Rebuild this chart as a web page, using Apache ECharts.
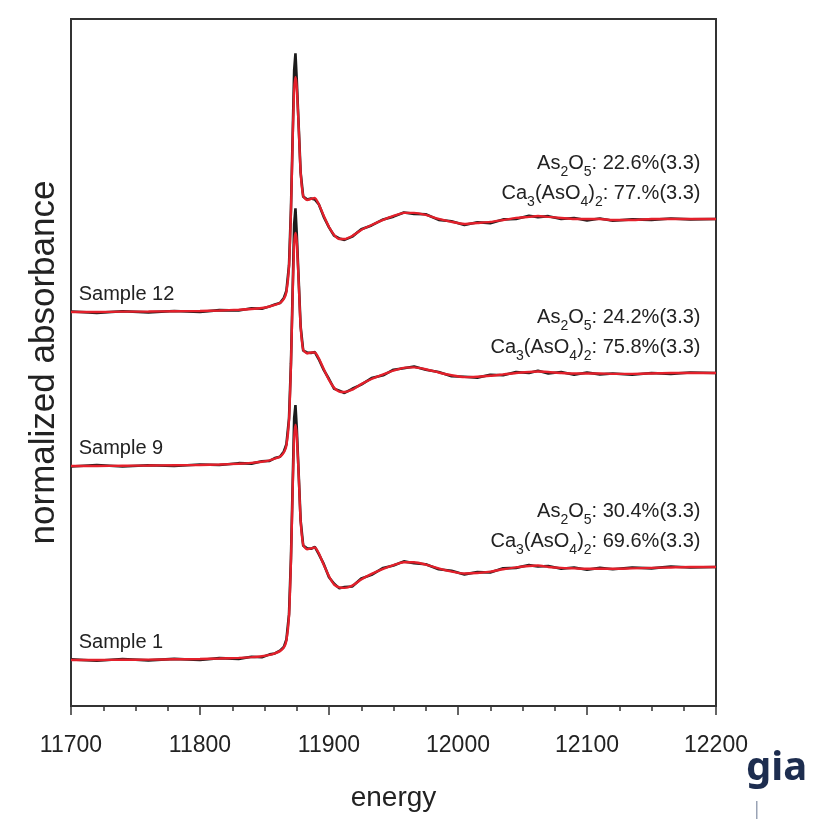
<!DOCTYPE html>
<html>
<head>
<meta charset="utf-8">
<script src="https://cdn.jsdelivr.net/npm/echarts@6/dist/echarts.min.js"></script>
<style>
	html, body {margin: 0; padding: 0; background: #fff;}
	#XChart {width: 823px; height: 819px;}
</style>
</head>
<body>
<div id="XChart"></div>
<script>
// energy grid (eV), shared by all curves
var energy = [
	11700, 11720, 11740, 11760, 11780, 11800, 11815, 11830, 11840, 11848,
	11854, 11858, 11862, 11865, 11867, 11869, 11870.5, 11872, 11873, 11874,
	11875, 11876.5, 11878, 11880, 11883, 11886, 11889, 11892, 11896, 11900,
	11904, 11908, 11912, 11918, 11925, 11933, 11942, 11950, 11958, 11966,
	11975, 11985, 11995, 12005, 12015, 12025, 12035, 12045, 12055, 12062,
	12070, 12080, 12090, 12100, 12110, 12120, 12135, 12150, 12165, 12180,
	12200
];

// sample 12
var fit12 = [
	0, 0, 0.003, 0.005, 0.008, 0.011, 0.016, 0.024, 0.032, 0.043,
	0.059, 0.075, 0.097, 0.14, 0.215, 0.484, 1.075, 1.935, 2.387, 2.527,
	2.419, 1.989, 1.505, 1.247, 1.204, 1.215, 1.226, 1.161, 1.032, 0.914,
	0.828, 0.785, 0.785, 0.817, 0.882, 0.935, 0.989, 1.032, 1.065, 1.065,
	1.043, 1.0, 0.968, 0.946, 0.957, 0.968, 0.989, 1.011, 1.022, 1.032,
	1.022, 1.011, 1.0, 1.0, 1.0, 0.989, 0.989, 1.0, 1.0, 1.0,
	1.0
];
var data12 = [
	0.005, -0.01, 0.008, -0.005, 0.01, 0.0, 0.02, 0.015, 0.04, 0.035,
	0.06, 0.08, 0.095, 0.15, 0.23, 0.5, 1.1, 2.0, 2.6, 2.78,
	2.5, 2.0, 1.5, 1.24, 1.21, 1.22, 1.21, 1.16, 1.02, 0.91,
	0.82, 0.79, 0.775, 0.81, 0.89, 0.93, 0.995, 1.025, 1.07, 1.055,
	1.05, 0.99, 0.975, 0.935, 0.965, 0.955, 0.995, 1.0, 1.035, 1.02,
	1.03, 1.0, 1.01, 0.985, 1.005, 0.98, 0.995, 0.99, 1.005, 0.995,
	1.0
];

// sample 9
var fit9 = [
	0, 0, 0.003, 0.005, 0.008, 0.011, 0.016, 0.024, 0.033, 0.045,
	0.06, 0.078, 0.1, 0.145, 0.22, 0.49, 1.08, 1.93, 2.38, 2.505,
	2.41, 1.98, 1.5, 1.25, 1.21, 1.22, 1.22, 1.16, 1.04, 0.925,
	0.84, 0.80, 0.795, 0.82, 0.88, 0.935, 0.985, 1.025, 1.055, 1.06,
	1.04, 1.005, 0.975, 0.955, 0.96, 0.97, 0.985, 1.0, 1.01, 1.015,
	1.01, 1.0, 0.995, 0.995, 0.995, 0.99, 0.99, 0.995, 1.0, 1.0,
	1.0
];
var data9 = [
	-0.005, 0.01, -0.006, 0.008, 0.0, 0.015, 0.01, 0.03, 0.025, 0.05,
	0.055, 0.085, 0.1, 0.155, 0.235, 0.51, 1.1, 2.0, 2.6, 2.77,
	2.5, 2.0, 1.5, 1.24, 1.22, 1.215, 1.225, 1.15, 1.03, 0.935,
	0.83, 0.81, 0.785, 0.83, 0.875, 0.945, 0.975, 1.035, 1.05, 1.07,
	1.035, 1.01, 0.965, 0.96, 0.95, 0.98, 0.975, 1.01, 1.0, 1.025,
	0.995, 1.01, 0.98, 1.005, 0.985, 0.995, 0.98, 1.0, 0.99, 1.005,
	1.0
];

// sample 1
var fit1 = [
	0, 0, 0.002, 0.004, 0.007, 0.01, 0.015, 0.022, 0.03, 0.04,
	0.055, 0.072, 0.095, 0.135, 0.21, 0.47, 1.06, 1.92, 2.39, 2.53,
	2.42, 1.99, 1.5, 1.24, 1.19, 1.2, 1.21, 1.15, 1.02, 0.9,
	0.81, 0.78, 0.775, 0.8, 0.865, 0.925, 0.98, 1.02, 1.05, 1.05,
	1.025, 0.985, 0.95, 0.93, 0.935, 0.95, 0.975, 0.995, 1.01, 1.015,
	1.0, 0.99, 0.985, 0.98, 0.98, 0.98, 0.985, 0.99, 0.995, 1.0,
	1.0
];
var data1 = [
	0.006, -0.008, 0.01, -0.004, 0.012, 0.0, 0.02, 0.012, 0.035, 0.03,
	0.06, 0.07, 0.1, 0.14, 0.22, 0.49, 1.09, 1.99, 2.6, 2.74,
	2.5, 2.0, 1.5, 1.23, 1.2, 1.195, 1.215, 1.14, 1.03, 0.89,
	0.82, 0.77, 0.785, 0.79, 0.875, 0.915, 0.99, 1.015, 1.06, 1.04,
	1.03, 0.975, 0.96, 0.92, 0.945, 0.94, 0.985, 0.99, 1.02, 1.005,
	1.01, 0.98, 0.995, 0.97, 0.99, 0.975, 0.995, 0.985, 1.005, 0.995,
	1.0
];

var sampleNames = ['Sample 1', 'Sample 9', 'Sample 12'];
var stackOffset = [0, 2.086, 3.742];
var as2o5Share = ['30.4%(3.3)', '24.2%(3.3)', '22.6%(3.3)'];
var ca3Share = ['69.6%(3.3)', '75.8%(3.3)', '77.%(3.3)'];
var xTicks = [11700, 11800, 11900, 12000, 12100, 12200];

window.onload = function () {
	var myChart = echarts.init(document.getElementById('XChart'));
	var sans = "'Liberation Sans', Arial, sans-serif";
	var fits = [fit1, fit9, fit12];
	var raws = [data1, data9, data12];

	function toPairs(vals, off) {
		return energy.map(function (e, i) {
			return [e, +(vals[i] + off).toFixed(4)];
		});
	}

	var series = [];
	for (var i = 0; i < 3; i++) {
		series.push({
			name: sampleNames[i] + ' data',
			type: 'line',
			showSymbol: false,
			z: 2,
			lineStyle: {color: '#1c1c1c', width: 2.6},
			data: toPairs(raws[i], stackOffset[i])
		});
	}
	for (var j = 0; j < 3; j++) {
		series.push({
			name: sampleNames[j] + ' fit',
			type: 'line',
			showSymbol: false,
			smooth: 0.2,
			z: 3,
			lineStyle: {color: '#e3202b', width: 2.4},
			data: toPairs(fits[j], stackOffset[j]),
			markPoint: {
				symbol: 'circle',
				symbolSize: 0,
				silent: true,
				itemStyle: {color: 'transparent'},
				data: [{
					coord: [11706, stackOffset[j] + 0.19],
					label: {
						show: true,
						position: 'right',
						distance: 0,
						formatter: sampleNames[j],
						fontFamily: sans,
						fontSize: 20,
						color: '#222'
					}
				}, {
					coord: [12188, stackOffset[j] + 1.43],
					label: {
						show: true,
						position: 'left',
						distance: 0,
						align: 'right',
						formatter: '{m|As}{s|2}{m|O}{s|5}{m|: ' + as2o5Share[j] + '}\n' +
							'{m|Ca}{s|3}{m|(AsO}{s|4}{m|)}{s|2}{m|: ' + ca3Share[j] + '}',
						rich: {
							m: {fontFamily: sans, fontSize: 20, lineHeight: 30, color: '#222'},
							s: {fontFamily: sans, fontSize: 14, lineHeight: 14, padding: [16, 0, 0, 0],
								verticalAlign: 'top', color: '#222'}
						}
					}
				}]
			}
		});
	}

	var option = {
		animation: false,
		backgroundColor: '#fff',
		grid: {
			left: 71,
			right: 107,
			top: 19,
			bottom: 113,
			show: true,
			borderColor: '#333',
			borderWidth: 2,
			containLabel: false,
			outerBoundsMode: 'none'
		},
		xAxis: {
			type: 'value',
			min: 11700,
			max: 12200,
			interval: 100,
			name: 'energy',
			nameLocation: 'middle',
			nameGap: 78,
			nameTextStyle: {fontFamily: sans, fontSize: 28, color: '#222'},
			axisLine: {onZero: false, lineStyle: {color: '#333', width: 2}},
			axisTick: {length: 9, lineStyle: {color: '#333', width: 1.5}},
			minorTick: {show: true, splitNumber: 4, length: 5, lineStyle: {color: '#333', width: 1.5}},
			splitLine: {show: false},
			axisLabel: {
				fontFamily: sans,
				fontSize: 23,
				color: '#222',
				margin: 28,
				formatter: function (v) {
					return xTicks.indexOf(v) >= 0 ? String(v) : '';
				}
			}
		},
		yAxis: {
			type: 'value',
			min: -0.495,
			max: 6.892,
			name: 'normalized absorbance',
			nameLocation: 'middle',
			nameGap: 9,
			nameTextStyle: {fontFamily: sans, fontSize: 35, color: '#222'},
			axisLine: {show: true, onZero: false, lineStyle: {color: '#333', width: 2}},
			axisTick: {show: false},
			axisLabel: {show: false},
			splitLine: {show: false}
		},
		graphic: [{
			type: 'text',
			left: 746,
			top: 749,
			style: {text: 'gia', fontFamily: "'Noto Sans', sans-serif", fontWeight: 'bold', fontSize: 40, fill: '#1d2d4f'}
		}, {
			type: 'rect',
			left: 756,
			top: 801,
			shape: {width: 1.5, height: 18},
			style: {fill: '#9aa3b5'}
		}],
		series: series
	};
	myChart.setOption(option);
};
</script>
</body>
</html>
